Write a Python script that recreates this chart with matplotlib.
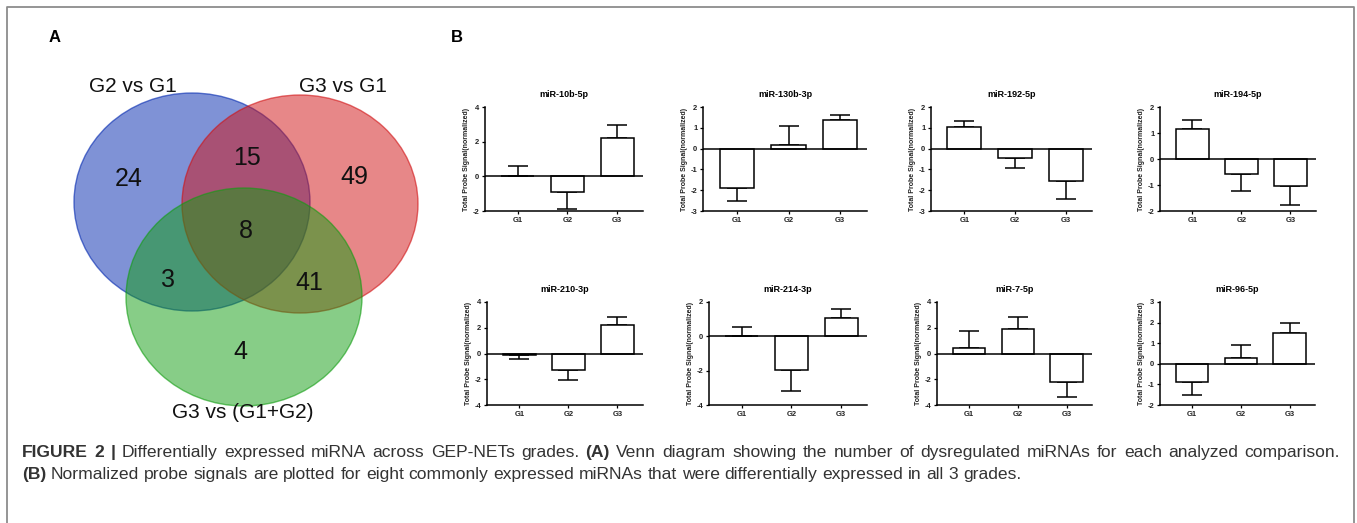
import matplotlib
matplotlib.use("Agg")
import matplotlib.pyplot as plt
from matplotlib.patches import Ellipse
import numpy as np

plt.rcParams["font.family"] = ["Liberation Sans", "DejaVu Sans"]
plt.rcParams["axes.unicode_minus"] = False

# ---- panel A: Venn diagram ----
set_labels = ["G2 vs G1", "G3 vs G1", "G3 vs (G1+G2)"]
set_colors = ["#0127af", "#d11113", "#119d11"]
region_counts = [24, 15, 49, 8, 3, 41, 4]

# ---- panel B: normalized probe signals ----
mirnas = ["miR-10b-5p", "miR-130b-3p", "miR-192-5p", "miR-194-5p",
          "miR-210-3p", "miR-214-3p", "miR-7-5p", "miR-96-5p"]
grades = ["G1", "G2", "G3"]
means = [
    [0.03, -0.91, 2.19],
    [-1.89, 0.15, 1.39],
    [1.05, -0.44, -1.58],
    [1.15, -0.59, -1.04],
    [-0.08, -1.29, 2.25],
    [0.04, -1.98, 1.04],
    [0.44, 1.91, -2.22],
    [-0.86, 0.29, 1.50],
]
errors = [
    [0.55, 0.95, 0.76],
    [0.64, 0.96, 0.24],
    [0.30, 0.50, 0.82],
    [0.36, 0.63, 0.74],
    [0.33, 0.80, 0.62],
    [0.50, 1.19, 0.56],
    [1.29, 0.93, 1.13],
    [0.66, 0.61, 0.50],
]
y_limits = [(-2, 4), (-3, 2), (-3, 2), (-2, 2), (-4, 4), (-4, 2), (-4, 4), (-2, 3)]
y_steps = [2, 1, 1, 1, 2, 2, 2, 1]

caption_lines = [
    [("FIGURE 2 |", "bold"),
     ("Differentially expressed miRNA across GEP-NETs grades.", "normal"),
     ("(A)", "bold"),
     ("Venn diagram showing the number of dysregulated miRNAs for each analyzed comparison.", "normal")],
    [("(B)", "bold"),
     ("Normalized probe signals are plotted for eight commonly expressed miRNAs that were "
      "differentially expressed in all 3 grades.", "normal")],
]

W, H = 1357, 523
fig = plt.figure(figsize=(W / 100, H / 100), dpi=100)

# background axes in pixel coordinates
bg = fig.add_axes([0, 0, 1, 1])
bg.set_xlim(0, W)
bg.set_ylim(H, 0)
bg.axis("off")

# frame
bg.plot([7, 7, 1354, 1354], [H, 7, 7, H], color="#8c8c8c", lw=1.3)

bg.text(55, 38, "A", fontsize=12, fontweight="bold", ha="center", va="center")
bg.text(457, 38, "B", fontsize=12, fontweight="bold", ha="center", va="center")

# venn circles
centers = [(192, 202), (300, 204), (244, 297)]
for (cx, cy), col in zip(centers, set_colors):
    bg.add_patch(Ellipse((cx, cy), 236, 218, facecolor=col, alpha=0.5,
                         edgecolor="none"))
    bg.add_patch(Ellipse((cx, cy), 236, 218, facecolor="none",
                         edgecolor=col, alpha=0.6, lw=1.0))

label_pos = [(133, 86), (343, 86), (243, 413)]
for (lx, ly), lab in zip(label_pos, set_labels):
    bg.text(lx, ly, lab, fontsize=15, ha="center", va="center", color="#111111")

count_pos = [(129, 179), (247, 158), (354, 177), (246, 231), (168, 280), (309, 283), (240, 352)]
for (px, py), n in zip(count_pos, region_counts):
    bg.text(px, py, str(n), fontsize=18, ha="center", va="center", color="#111111")

# bar panels
boxes = [
    (485, 643, 107, 211), (703, 867, 107, 211), (931, 1092, 107, 211), (1160, 1316, 107, 211),
    (487, 643, 302, 405), (709, 867, 302, 405), (937, 1092, 302, 405), (1160, 1315, 302, 405),
]
x = np.arange(len(grades))
for i, (x0, x1, y0, y1) in enumerate(boxes):
    ax = fig.add_axes([x0 / W, 1 - y1 / H, (x1 - x0) / W, (y1 - y0) / H])
    vals = np.array(means[i])
    errs = np.array(errors[i])
    ax.bar(x, vals, width=0.67, color="white", edgecolor="black", linewidth=1.1, zorder=3)
    lower = np.where(vals < 0, errs, 0)
    upper = np.where(vals >= 0, errs, 0)
    ax.errorbar(x, vals, yerr=[lower, upper], fmt="none", ecolor="black",
                elinewidth=1.1, capsize=7, capthick=1.1, zorder=2)
    ax.axhline(0, color="black", lw=1.1, zorder=4)
    lo, hi = y_limits[i]
    ax.set_ylim(lo, hi)
    ax.set_xlim(-0.66, 2.52)
    ax.set_yticks(np.arange(lo, hi + 0.01, y_steps[i]))
    ax.set_xticks(x, grades)
    for lbl in ax.get_xticklabels() + ax.get_yticklabels():
        lbl.set_fontweight("bold")
        lbl.set_color("#222222")
    ax.tick_params(labelsize=5.5, width=0.9, length=2.5, pad=1.5)
    for s in ["top", "right"]:
        ax.spines[s].set_visible(False)
    for s in ["left", "bottom"]:
        ax.spines[s].set_linewidth(1.1)
    ax.set_title(mirnas[i], fontsize=6.5, fontweight="bold", pad=7)
    ax.set_ylabel("Total Probe Signal(normalized)", fontsize=5, fontweight="bold",
                  labelpad=2, color="#222222")

# caption: word by word so bold and regular can mix; first line justified
renderer = fig.canvas.get_renderer()
cap_size = 12.6
x_left, x_right = 22, 1340
space_w = cap_size * 100 / 72 * 0.278
for li, (line, ypos) in enumerate(zip(caption_lines, [457, 479])):
    words = []
    for txt, weight in line:
        words += [(w, weight) for w in txt.split(" ")]
    arts, widths = [], []
    for w, weight in words:
        t = bg.text(0, ypos, w, fontsize=cap_size, fontweight=weight,
                    color="#333333", ha="left", va="baseline")
        arts.append(t)
        widths.append(t.get_window_extent(renderer).width)
    if li == 0:
        gap = max(space_w, (x_right - x_left - sum(widths)) / (len(words) - 1))
    else:
        gap = space_w
    xpos = x_left
    for t, wd in zip(arts, widths):
        t.set_x(xpos)
        xpos += wd + gap

fig.savefig("out.png", dpi=100)
